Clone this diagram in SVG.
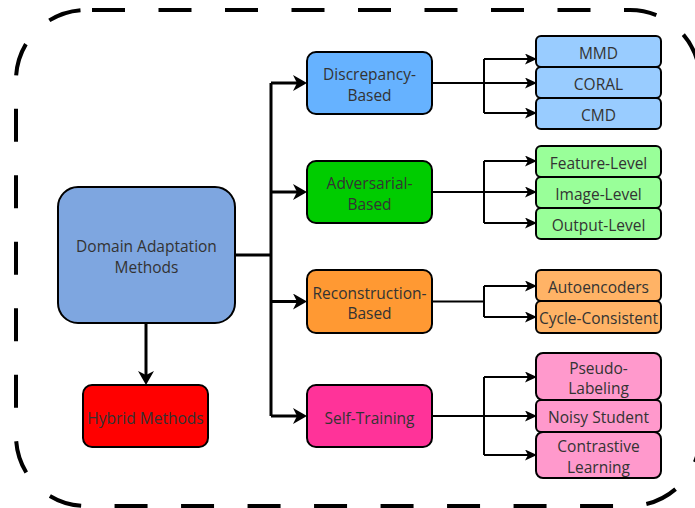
<svg xmlns="http://www.w3.org/2000/svg" width="695" height="508" viewBox="0 0 695 508">
<defs>
<style>
.box{stroke:#000;stroke-width:2}
.t{font-family:"Open Sans","Noto Sans",sans-serif;font-size:15.5px;fill:#333;text-anchor:middle}
.thick{fill:none;stroke:#000;stroke-width:3}
.thin{fill:none;stroke:#000;stroke-width:2}
</style>
<marker id="big" markerUnits="userSpaceOnUse" markerWidth="14" markerHeight="16" refX="4" refY="8" orient="auto">
<path d="M0,0 L14,8 L0,16 L4,8 Z" fill="#000"/>
</marker>
<marker id="small" markerUnits="userSpaceOnUse" markerWidth="12" markerHeight="11" refX="3" refY="5.5" orient="auto">
<path d="M0,0 L12,5.5 L0,11 L3,5.5 Z" fill="#000"/>
</marker>
</defs>
<rect x="16" y="10" width="684" height="496" rx="70" fill="none" stroke="#000" stroke-width="4" stroke-dasharray="33 33.5" stroke-dashoffset="60.5"/>
<g id="connectors">
<path class="thick" d="M235,255 H271"/>
<path class="thick" d="M271,83 V416"/>
<path class="thick" d="M271,83 H297" marker-end="url(#big)"/>
<path class="thick" d="M271,192 H297" marker-end="url(#big)"/>
<path class="thick" d="M271,301.5 H297" marker-end="url(#big)"/>
<path class="thick" d="M271,416 H297" marker-end="url(#big)"/>
<path class="thick" d="M146,323 V375" marker-end="url(#big)"/>
<path class="thin" d="M432,83 H528" marker-end="url(#small)"/>
<path class="thin" d="M484,59 V113"/>
<path class="thin" d="M484,59 H528" marker-end="url(#small)"/>
<path class="thin" d="M484,113 H528" marker-end="url(#small)"/>
<path class="thin" d="M432,192 H528" marker-end="url(#small)"/>
<path class="thin" d="M484,161 V223"/>
<path class="thin" d="M484,161 H528" marker-end="url(#small)"/>
<path class="thin" d="M484,223 H528" marker-end="url(#small)"/>
<path class="thin" d="M432,301.5 H484"/>
<path class="thin" d="M484,286 V317"/>
<path class="thin" d="M484,286 H528" marker-end="url(#small)"/>
<path class="thin" d="M484,317 H528" marker-end="url(#small)"/>
<path class="thin" d="M432,416 H528" marker-end="url(#small)"/>
<path class="thin" d="M484,377 V455"/>
<path class="thin" d="M484,377 H528" marker-end="url(#small)"/>
<path class="thin" d="M484,455 H528" marker-end="url(#small)"/>
</g>
<g id="domain"><rect class="box" x="58" y="187" width="177" height="136" rx="20" fill="#7EA6E0"/><text class="t" x="146.5" y="252">Domain Adaptation</text><text class="t" x="146.5" y="272.5">Methods</text></g>
<g id="hybrid"><rect class="box" x="83" y="385" width="125" height="62" rx="9" fill="#FF0000"/><text class="t" x="145.5" y="423.5">Hybrid Methods</text></g>
<g id="discrepancy"><rect class="box" x="307" y="52" width="125" height="62" rx="9" fill="#66B2FF"/><text class="t" x="369.5" y="80">Discrepancy-</text><text class="t" x="369.5" y="100.5">Based</text></g>
<g id="adversarial"><rect class="box" x="307" y="161" width="125" height="62" rx="9" fill="#00CC00"/><text class="t" x="369.5" y="189">Adversarial-</text><text class="t" x="369.5" y="209.5">Based</text></g>
<g id="reconstruction"><rect class="box" x="307" y="270" width="125" height="63" rx="9" fill="#FF9933"/><text class="t" x="369.5" y="298.5">Reconstruction-</text><text class="t" x="369.5" y="319">Based</text></g>
<g id="selftraining"><rect class="box" x="307" y="385" width="125" height="62" rx="9" fill="#FF3399"/><text class="t" x="369.5" y="423.5">Self-Training</text></g>
<g id="mmd"><rect class="box" x="536" y="36" width="125" height="31" rx="5" fill="#99CCFF"/><text class="t" x="598.5" y="59">MMD</text></g>
<g id="coral"><rect class="box" x="536" y="67" width="125" height="31" rx="5" fill="#99CCFF"/><text class="t" x="598.5" y="90">CORAL</text></g>
<g id="cmd"><rect class="box" x="536" y="98" width="125" height="31" rx="5" fill="#99CCFF"/><text class="t" x="598.5" y="121">CMD</text></g>
<g id="feature"><rect class="box" x="536" y="146" width="125" height="31" rx="5" fill="#99FF99"/><text class="t" x="598.5" y="169">Feature-Level</text></g>
<g id="image"><rect class="box" x="536" y="177" width="125" height="31" rx="5" fill="#99FF99"/><text class="t" x="598.5" y="200">Image-Level</text></g>
<g id="output"><rect class="box" x="536" y="208" width="125" height="31" rx="5" fill="#99FF99"/><text class="t" x="598.5" y="231">Output-Level</text></g>
<g id="autoencoders"><rect class="box" x="536" y="270" width="125" height="31" rx="5" fill="#FFB366"/><text class="t" x="598.5" y="293">Autoencoders</text></g>
<g id="cycle"><rect class="box" x="536" y="301" width="125" height="32" rx="5" fill="#FFB366"/><text class="t" x="598.5" y="324">Cycle-Consistent</text></g>
<g id="pseudo"><rect class="box" x="536" y="353" width="125" height="47" rx="7" fill="#FF99CC"/><text class="t" x="598.5" y="373.5">Pseudo-</text><text class="t" x="598.5" y="394">Labeling</text></g>
<g id="noisy"><rect class="box" x="536" y="400" width="125" height="32" rx="5" fill="#FF99CC"/><text class="t" x="598.5" y="423">Noisy Student</text></g>
<g id="contrastive"><rect class="box" x="536" y="432" width="125" height="46" rx="7" fill="#FF99CC"/><text class="t" x="598.5" y="452">Contrastive</text><text class="t" x="598.5" y="472.5">Learning</text></g>
</svg>
